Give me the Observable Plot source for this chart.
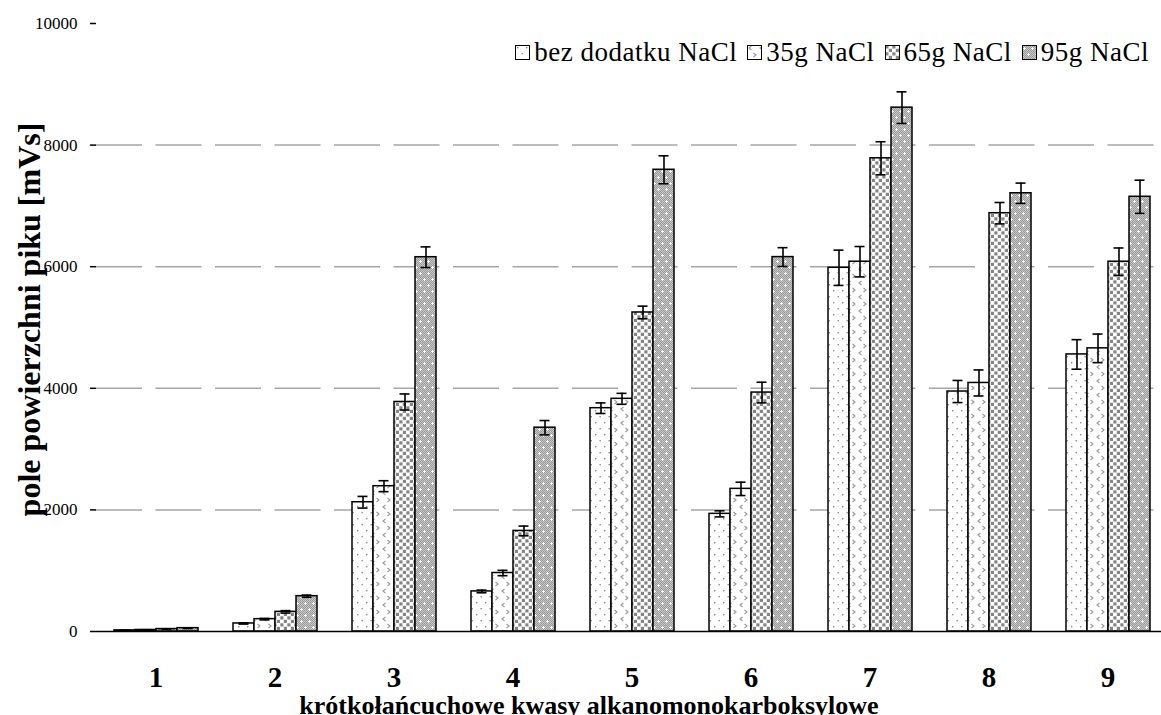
<!DOCTYPE html>
<html><head><meta charset="utf-8">
<script src="https://cdn.jsdelivr.net/npm/d3@7"></script>
<script src="https://cdn.jsdelivr.net/npm/@observablehq/plot@0.6"></script>
<style>
body{margin:0;background:#fff;}
#wrap{position:relative;width:1161px;height:715px;overflow:hidden;font-family:"Liberation Serif","Times New Roman",serif;}
#legend{position:absolute;top:37px;right:12px;display:flex;align-items:center;font-size:27px;letter-spacing:0.5px;line-height:30px;color:#000;}
.item{display:flex;align-items:center;margin-left:10px;}
.item svg{margin-right:4px;}
</style></head><body>
<svg id="defs" width="0" height="0" style="position:absolute"><defs></defs></svg>
<div id="wrap"><div id="chart"></div><div id="legend"></div></div>
<script>
const categories = ["1","2","3","4","5","6","7","8","9"];
const series = ["bez dodatku NaCl","35g NaCl","65g NaCl","95g NaCl"];
const bezValues = [18,132,2126,659,3673,1935,5982,3947,4557];
const bezErrors = [4,10,96,22,87,50,290,182,243];
const g35Values = [25,203,2390,962,3827,2346,6082,4088,4657];
const g35Errors = [4,12,90,44,90,110,250,214,235];
const g65Values = [40,323,3775,1654,5247,3930,7783,6880,6082];
const g65Errors = [5,20,132,80,104,170,272,176,226];
const g95Values = [55,581,6156,3352,7594,6158,8616,7208,7150];
const g95Errors = [6,18,170,118,230,155,260,167,273];
const yTicks = [0,2000,4000,6000,8000,10000];
const gridValues = [2000,4000,6000,8000];
const yTitle = "pole powierzchni piku [mVs]";
const xTitle = "krótkołańcuchowe kwasy alkanomonokarboksylowe";

// fill patterns
const defs = d3.select("#defs defs");
function pat(id, w, h){ return defs.append("pattern").attr("id", id).attr("width", w).attr("height", h).attr("patternUnits", "userSpaceOnUse"); }
let p = pat("p0", 9, 12);
p.append("rect").attr("width", 9).attr("height", 12).attr("fill", "#fff");
p.append("rect").attr("x", 2).attr("y", 2).attr("width", 1.4).attr("height", 1.4).attr("fill", "#8c8c8c");
p.append("rect").attr("x", 6.5).attr("y", 8).attr("width", 1.4).attr("height", 1.4).attr("fill", "#8c8c8c");
p = pat("p1", 11, 14);
p.append("rect").attr("width", 11).attr("height", 14).attr("fill", "#fff");
p.append("path").attr("d", "M4.5,1 L2,3 L4.5,5 M6.5,8 L9,10 L6.5,12").attr("fill", "none").attr("stroke", "#999").attr("stroke-width", 1.1);
p = pat("p2", 7, 7);
p.append("rect").attr("width", 7).attr("height", 7).attr("fill", "#fff");
p.append("rect").attr("x", 0.3).attr("y", 0.3).attr("width", 3.2).attr("height", 3.2).attr("fill", "#858585");
p.append("rect").attr("x", 3.8).attr("y", 3.8).attr("width", 3.2).attr("height", 3.2).attr("fill", "#858585");
p = pat("p3", 8, 12);
p.append("rect").attr("width", 8).attr("height", 12).attr("fill", "#9a9a9a");
for (let i = 0; i < 8; i++) for (let j = 0; j < 12; j++) if ((i + j) % 2 === 0) p.append("rect").attr("x", i).attr("y", j).attr("width", 1).attr("height", 1).attr("fill", "#c8c8c8");
p.append("rect").attr("x", 1).attr("y", 3).attr("width", 3).attr("height", 1).attr("fill", "#fff");
p.append("rect").attr("x", 2).attr("y", 2).attr("width", 1).attr("height", 3).attr("fill", "#fff");
p.append("rect").attr("x", 5).attr("y", 9).attr("width", 3).attr("height", 1).attr("fill", "#fff");
p.append("rect").attr("x", 6).attr("y", 8).attr("width", 1).attr("height", 3).attr("fill", "#fff");
const patterns = ["url(#p0)","url(#p1)","url(#p2)","url(#p3)"];

const valueLists = [bezValues, g35Values, g65Values, g95Values];
const errorLists = [bezErrors, g35Errors, g65Errors, g95Errors];
const data = [];
categories.forEach((c, i) => series.forEach((s, k) => data.push({cat: c, series: s, v: valueLists[k][i], e: errorLists[k][i]})));

const font = "Liberation Serif, Times New Roman, serif";
const chart = Plot.plot({
  width: 1161, height: 715,
  marginLeft: 96, marginRight: -6, marginTop: 23, marginBottom: 84,
  style: {fontFamily: font, color: "#000", background: "#fff", overflow: "hidden"},
  fx: {domain: categories, padding: 0, label: null},
  x: {domain: series, paddingInner: 0, paddingOuter: 0.7356, axis: null},
  y: {domain: [0, 10000], axis: null},
  color: {type: "ordinal", domain: series, range: patterns},
  marks: [
    Plot.ruleY(gridValues, {stroke: "#a6a6a6", strokeWidth: 1.5, strokeDasharray: "46,13.5"}),
    Plot.barY(data, {fx: "cat", x: "series", y: "v", fill: "series", stroke: "#000", strokeWidth: 1.5}),
    Plot.ruleX(data, {fx: "cat", x: "series", y1: d => d.v - d.e, y2: d => d.v + d.e, stroke: "#000", strokeWidth: 1.6}),
    Plot.tickY(data, {fx: "cat", x: "series", y: d => d.v + d.e, insetLeft: 5.5, insetRight: 5.5, stroke: "#000", strokeWidth: 1.6}),
    Plot.tickY(data, {fx: "cat", x: "series", y: d => d.v - d.e, insetLeft: 5.5, insetRight: 5.5, stroke: "#000", strokeWidth: 1.6}),
    Plot.ruleY([0], {stroke: "#000", strokeWidth: 1.5}),
    Plot.axisY({ticks: yTicks, line: true, tickSize: 6, tickPadding: 13, tickFormat: d => String(d), fontSize: 17, label: null, strokeWidth: 1.5}),
    Plot.axisFx({anchor: "bottom", tickSize: 0, tickPadding: 35, fontSize: 29, fontWeight: "bold", label: null}),
    Plot.text([yTitle], {facet: "super", frameAnchor: "left", textAnchor: "middle", lineAnchor: "middle", rotate: -90, dx: -67, dy: -8, fontSize: 32, fontWeight: "bold", fill: "#000"}),
    Plot.text([xTitle], {facet: "super", frameAnchor: "bottom", textAnchor: "middle", lineAnchor: "middle", dx: -43, dy: 74, fontSize: 26, fontWeight: "bold", fill: "#000"})
  ]
});
document.getElementById("chart").appendChild(chart);

const legend = d3.select("#legend");
series.forEach((s, k) => {
  const it = legend.append("div").attr("class", "item");
  const sw = it.append("svg").attr("width", 15).attr("height", 15);
  sw.append("rect").attr("x", 0.5).attr("y", 0.5).attr("width", 14).attr("height", 14).attr("fill", patterns[k]).attr("stroke", "#000").attr("stroke-width", 1);
  it.append("span").text(s);
});
</script>
</body></html>
